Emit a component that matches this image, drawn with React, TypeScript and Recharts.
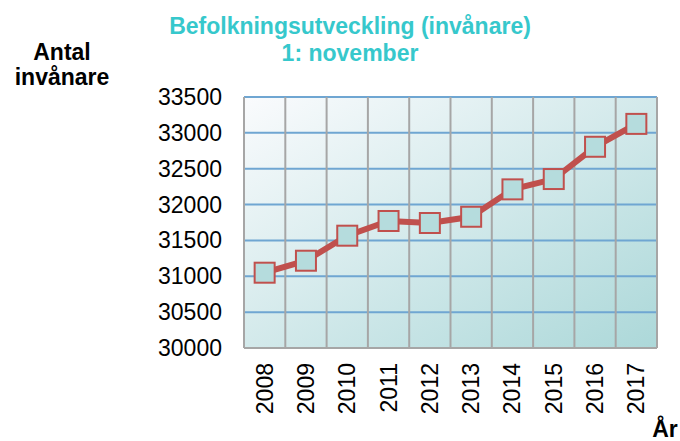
import React from 'react';
import { ComposedChart, Line, XAxis, YAxis, CartesianGrid } from 'recharts';

const years = ['2008', '2009', '2010', '2011', '2012', '2013', '2014', '2015', '2016', '2017'];
const population = [31050, 31217, 31566, 31771, 31743, 31830, 32212, 32356, 32806, 33125];
const yTicks = [30000, 30500, 31000, 31500, 32000, 32500, 33000, 33500];

const data = years.map((year, i) => ({ year, value: population[i] }));

const FONT = '"Liberation Sans", Arial, sans-serif';

const YTick = (props: any) => {
  const { x, y, payload } = props;
  return (
    <text x={x - 22} y={y} textAnchor="end" dominantBaseline="central" fontFamily={FONT} fontSize={23} fill="#000">
      {payload.value}
    </text>
  );
};

const XTick = (props: any) => {
  const { x, y, payload } = props;
  const ty = y + 15;
  return (
    <text x={x} y={ty} transform={`rotate(-90, ${x}, ${ty})`} textAnchor="end" dominantBaseline="central" fontFamily={FONT} fontSize={23} fill="#000">
      {payload.value}
    </text>
  );
};

const SquareDot = (props: any) => {
  const { cx, cy, index } = props;
  if (cx == null || cy == null) return <g key={index} />;
  return <rect key={index} x={cx - 10} y={cy - 10} width={20} height={20} fill="#b5dcdd" stroke="#c0504d" strokeWidth={2} />;
};

export default function App() {
  return (
    <div style={{ position: 'absolute', left: 0, top: 0, width: 680, height: 441, background: '#fff' }}>
      <ComposedChart width={680} height={441} data={data} margin={{ top: 97, right: 23, bottom: 92, left: 0 }}>
        <defs>
          <linearGradient id="bgGrad" x1="0" y1="0" x2="1" y2="1">
            <stop offset="0%" stopColor="#fafbfd" />
            <stop offset="100%" stopColor="#acd8d9" />
          </linearGradient>
        </defs>
        <CartesianGrid vertical={false} stroke="#6fa6d2" strokeWidth={2} fill="url(#bgGrad)" fillOpacity={1} />
        <CartesianGrid
          horizontal={false}
          stroke="#a6a6a6"
          strokeWidth={2}
          verticalCoordinatesGenerator={({ offset }: any) =>
            Array.from({ length: years.length + 1 }, (_, i) => offset.left + (i * offset.width) / years.length)
          }
        />
        <XAxis dataKey="year" scale="band" height={1} interval={0} tick={<XTick />} tickSize={0} tickMargin={0} axisLine={{ stroke: '#a6a6a6', strokeWidth: 2 }} tickLine={false} />
        <YAxis domain={[30000, 33500]} ticks={yTicks} width={244} tick={<YTick />} tickSize={0} tickMargin={0} axisLine={{ stroke: '#a6a6a6', strokeWidth: 2 }} tickLine={false} interval={0} />
        <Line type="linear" dataKey="value" stroke="#c0504d" strokeWidth={6} dot={<SquareDot />} activeDot={false} isAnimationActive={false} />
      </ComposedChart>
      <svg width={680} height={441} style={{ position: 'absolute', left: 0, top: 0, pointerEvents: 'none' }}>
        <g fontFamily={FONT} fontWeight="bold" fontSize={23}>
          <text x={350} y={34} textAnchor="middle" fill="#36c8cc">Befolkningsutveckling (invånare)</text>
          <text x={350} y={61} textAnchor="middle" fill="#36c8cc">1: november</text>
          <text x={62} y={60} textAnchor="middle" fill="#000">Antal</text>
          <text x={62} y={85} textAnchor="middle" fill="#000">invånare</text>
          <text x={665} y={437} textAnchor="middle" fill="#000">År</text>
        </g>
      </svg>
    </div>
  );
}
